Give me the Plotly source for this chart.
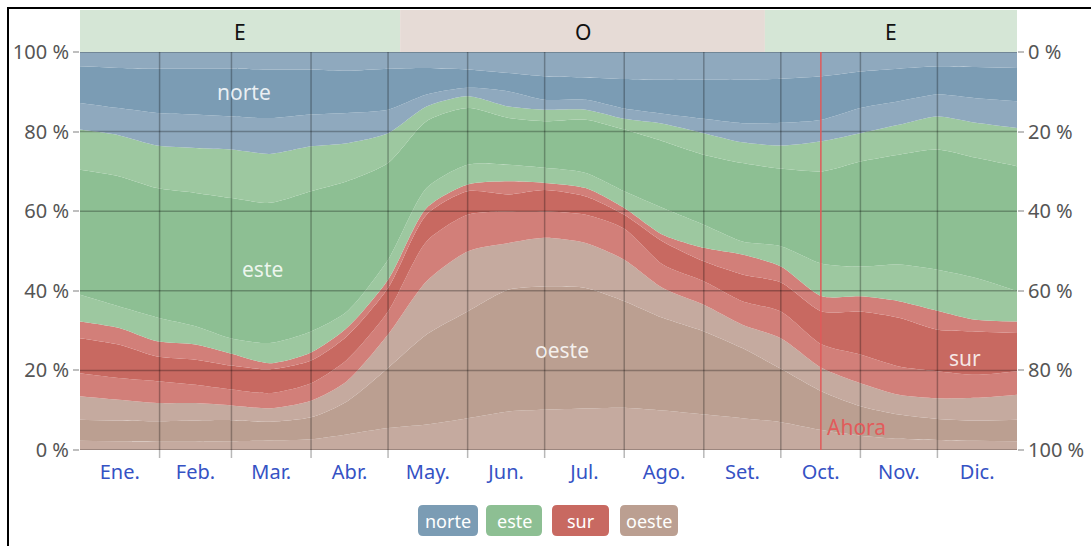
import plotly.graph_objects as go

# ---------------- data (cumulative % from bottom) -------------
days = [0, 15, 30, 45, 59, 74, 90, 104, 120, 135, 151, 167, 181, 197, 212, 227,
        243, 258, 273, 289, 304, 319, 334, 349, 365]

oeste_1 = [2.3, 2.2, 2.1, 2.1, 2.2, 2.4, 2.7, 3.9, 5.5, 6.4, 8.0, 9.7, 10.1, 10.4, 10.6, 9.9,
           8.9, 8.0, 7.0, 5.0, 3.6, 2.8, 2.5, 2.3, 2.2]
oeste_2 = [7.6, 7.4, 7.2, 7.4, 7.5, 7.1, 8.2, 12.2, 20.6, 29.0, 34.8, 40.3, 41.1, 40.7, 37.4, 33.2,
           29.8, 25.6, 20.4, 14.7, 11.0, 8.9, 7.8, 7.4, 7.6]
oeste_3 = [13.5, 12.6, 11.8, 11.8, 11.2, 10.5, 12.4, 17.3, 29.0, 42.4, 49.9, 52.0, 53.3, 52.0, 47.8, 40.7,
           36.5, 31.5, 28.1, 20.6, 16.8, 13.9, 13.0, 13.1, 13.9]
sur_1 = [19.3, 18.1, 17.3, 16.4, 15.2, 14.3, 16.8, 22.7, 34.8, 52.4, 59.1, 60.0, 60.0, 59.1, 55.6, 46.6,
         42.4, 37.4, 34.8, 26.5, 24.0, 21.0, 19.8, 18.9, 19.8]
sur_2 = [28.1, 26.5, 23.5, 22.7, 21.2, 20.3, 22.5, 28.6, 40.7, 59.1, 65.0, 64.2, 65.3, 63.7, 59.1, 52.4,
         47.4, 44.1, 42.1, 34.8, 34.8, 33.2, 30.2, 29.8, 29.4]
sur_3 = [32.3, 30.7, 27.3, 26.5, 24.2, 21.8, 24.5, 30.7, 42.8, 60.8, 66.7, 67.5, 67.1, 65.8, 60.8, 54.1,
         50.8, 49.1, 46.1, 38.6, 38.6, 37.4, 35.0, 32.7, 32.3]
este_1 = [39.0, 36.1, 33.3, 31.1, 28.0, 26.9, 29.8, 34.8, 47.8, 65.8, 71.7, 71.7, 70.9, 69.6, 65.0, 60.8,
          56.6, 52.4, 51.2, 46.8, 46.1, 46.6, 45.3, 43.2, 39.9]
este_2 = [70.4, 68.8, 65.8, 64.6, 63.3, 62.1, 65.0, 67.5, 72.1, 82.6, 85.9, 83.4, 82.6, 83.0, 80.5, 77.6,
          74.2, 72.1, 70.7, 70.0, 72.5, 74.2, 75.5, 73.4, 71.3]
este_3 = [80.5, 79.1, 76.5, 75.9, 75.5, 74.4, 76.3, 77.1, 79.6, 86.3, 88.9, 86.3, 85.5, 85.5, 83.2, 82.0,
          79.6, 77.3, 76.5, 77.6, 79.6, 81.7, 83.8, 82.2, 80.9]
norte_1 = [87.2, 85.9, 84.7, 84.3, 83.8, 83.4, 84.3, 84.7, 85.5, 89.3, 91.0, 90.1, 88.0, 88.0, 85.8, 84.5,
           83.2, 82.1, 82.2, 83.0, 85.9, 87.6, 89.3, 88.4, 87.6]
norte_2 = [96.4, 96.0, 95.8, 95.8, 95.8, 95.6, 95.6, 95.3, 95.8, 96.0, 95.6, 94.7, 93.9, 93.6, 93.2, 93.0,
           93.0, 93.0, 93.3, 93.9, 95.1, 95.8, 96.4, 96.2, 96.0]
norte_3 = [100] * 25

month_starts = [0, 31, 59, 90, 120, 151, 181, 212, 243, 273, 304, 334, 365]
month_labels = ["Ene.", "Feb.", "Mar.", "Abr.", "May.", "Jun.", "Jul.", "Ago.", "Set.", "Oct.", "Nov.", "Dic."]
y_ticks = [0, 20, 40, 60, 80, 100]

dominant_dirs = ["E", "O", "E"]
dominant_bounds = [0, 124.7, 266.8, 365]

now_day = 288.6

direction_names = ["norte", "este", "sur", "oeste"]

# ---------------- styles ----------------
C_LIGHT = {"norte": "#8fa9be", "este": "#9dc8a0", "sur": "#d27f79", "oeste": "#c5aa9f"}
C_DARK = {"norte": "#7b9cb4", "este": "#8dbf93", "sur": "#c86961", "oeste": "#bb9f91"}
BAND_BG = {"E": "#d5e6d6", "O": "#e6dbd6"}
FONT = "Noto Sans"

W, H = 1091, 546
ML, MR, MT, MB = 80, 74, 52, 96
PW, PH = W - ML - MR, H - MT - MB


def px_x(px):
    return (px - ML) / PW


def px_y(py):
    return (H - MB - py) / PH


layers = [
    (oeste_1, C_LIGHT["oeste"]), (oeste_2, C_DARK["oeste"]), (oeste_3, C_LIGHT["oeste"]),
    (sur_1, C_LIGHT["sur"]), (sur_2, C_DARK["sur"]), (sur_3, C_LIGHT["sur"]),
    (este_1, C_LIGHT["este"]), (este_2, C_DARK["este"]), (este_3, C_LIGHT["este"]),
    (norte_1, C_LIGHT["norte"]), (norte_2, C_DARK["norte"]), (norte_3, C_LIGHT["norte"]),
]

fig = go.Figure()
for i, (vals, col) in enumerate(layers):
    fig.add_trace(go.Scatter(
        x=days, y=vals, mode="lines",
        line=dict(width=0, shape="spline", smoothing=0.7, color=col),
        fill="tozeroy" if i == 0 else "tonexty",
        fillcolor=col, hoverinfo="skip", showlegend=False,
    ))

shapes = []
GRID = "rgba(0,0,0,0.28)"
for v in y_ticks:
    shapes.append(dict(type="line", xref="paper", yref="y", x0=0, x1=1, y0=v, y1=v,
                       line=dict(color=GRID, width=1.5), layer="above"))
for d in month_starts[1:-1]:
    shapes.append(dict(type="line", xref="x", yref="paper", x0=d, x1=d, y0=-0.02, y1=1,
                       line=dict(color=GRID, width=1.5), layer="above"))
shapes.append(dict(type="line", xref="x", yref="paper", x0=now_day, x1=now_day, y0=0, y1=1,
                   line=dict(color="#e05a5a", width=1.5), layer="above"))
for k, dname in enumerate(dominant_dirs):
    shapes.append(dict(type="rect", xref="x", yref="paper",
                       x0=dominant_bounds[k], x1=dominant_bounds[k + 1], y0=1.0, y1=px_y(10),
                       fillcolor=BAND_BG[dname], line=dict(width=0), layer="below"))
# outer frame (left and top visible)
shapes.append(dict(type="rect", xref="paper", yref="paper", x0=px_x(8), x1=px_x(1110),
                   y0=px_y(570), y1=px_y(8),
                   line=dict(color="black", width=2), fillcolor="rgba(0,0,0,0)", layer="above"))

# legend chips (rounded rectangles)
chip_px = [(418, 478), (486, 542), (552, 609), (620, 678)]
chip_top, chip_bot, rad = 505, 536, 5
annotations = []
for (a, b), dname in zip(chip_px, direction_names):
    x0, x1 = px_x(a), px_x(b)
    y0, y1 = px_y(chip_bot), px_y(chip_top)
    rx, ry = rad / PW, rad / PH
    path = (f"M {x0+rx},{y1} L {x1-rx},{y1} Q {x1},{y1} {x1},{y1-ry} "
            f"L {x1},{y0+ry} Q {x1},{y0} {x1-rx},{y0} L {x0+rx},{y0} "
            f"Q {x0},{y0} {x0},{y0+ry} L {x0},{y1-ry} Q {x0},{y1} {x0+rx},{y1} Z")
    shapes.append(dict(type="path", xref="paper", yref="paper", path=path,
                       fillcolor=C_DARK[dname], line=dict(width=0), layer="above"))
    annotations.append(dict(x=(x0 + x1) / 2, y=(y0 + y1) / 2, xref="paper", yref="paper",
                            text=dname, showarrow=False, xanchor="center", yanchor="middle",
                            font=dict(family=FONT, size=18, color="white")))

for k, dname in enumerate(dominant_dirs):
    annotations.append(dict(x=(dominant_bounds[k] + dominant_bounds[k + 1]) / 2, y=px_y(32),
                            xref="x", yref="paper", text=dname, showarrow=False,
                            xanchor="center", yanchor="middle",
                            font=dict(family=FONT, size=21, color="#111")))

label_font = dict(family=FONT, size=21, color="rgba(255,255,255,0.85)")
annotations += [
    dict(x=63.9, y=89.9, xref="x", yref="y", text="norte", showarrow=False, font=label_font,
         yanchor="middle"),
    dict(x=70.9, y=45.5, xref="x", yref="y", text="este", showarrow=False, font=label_font,
         yanchor="middle"),
    dict(x=187.8, y=25.1, xref="x", yref="y", text="oeste", showarrow=False, font=label_font,
         yanchor="middle"),
    dict(x=344.7, y=23.1, xref="x", yref="y", text="sur", showarrow=False, font=label_font,
         yanchor="middle"),
    dict(x=now_day + 1.8, y=5.8, xref="x", yref="y", text="Ahora", showarrow=False,
         xanchor="left", yanchor="middle", font=dict(family=FONT, size=21, color="#e25b5b")),
]

mid_month = [(month_starts[i] + month_starts[i + 1]) / 2 for i in range(12)]

fig.update_layout(
    width=W, height=H,
    margin=dict(l=ML, r=MR, t=MT, b=MB, autoexpand=False),
    paper_bgcolor="white", plot_bgcolor="white",
    shapes=shapes, annotations=annotations, showlegend=False,
    xaxis=dict(range=[0, 365], tickmode="array", tickvals=mid_month, ticktext=month_labels,
               showgrid=False, zeroline=False, ticks="", showline=False, automargin=False,
               tickfont=dict(family=FONT, size=20, color="#3552c4"), ticklabelstandoff=8,
               fixedrange=True),
    yaxis=dict(range=[0, 100], tickmode="array", tickvals=y_ticks, automargin=False,
               ticktext=[f"{v} %" for v in y_ticks], showgrid=False, zeroline=False,
               ticks="outside", ticklen=6, tickcolor="rgba(0,0,0,0.25)", tickwidth=1.5,
               tickfont=dict(family=FONT, size=20, color="#555")),
    yaxis2=dict(range=[100, 0], overlaying="y", side="right", tickmode="array", automargin=False,
                tickvals=y_ticks, ticktext=[f"{v} %" for v in y_ticks], showgrid=False,
                zeroline=False, ticks="outside", ticklen=6, tickcolor="rgba(0,0,0,0.25)",
                tickwidth=1.5, tickfont=dict(family=FONT, size=20, color="#555")),
)
fig.add_trace(go.Scatter(x=[0], y=[0], yaxis="y2", mode="markers", marker=dict(opacity=0),
                         hoverinfo="skip", showlegend=False))

fig.write_html("out.html", config={"displayModeBar": False},
               post_script="document.body.style.margin='0';document.body.style.overflow='hidden';")
